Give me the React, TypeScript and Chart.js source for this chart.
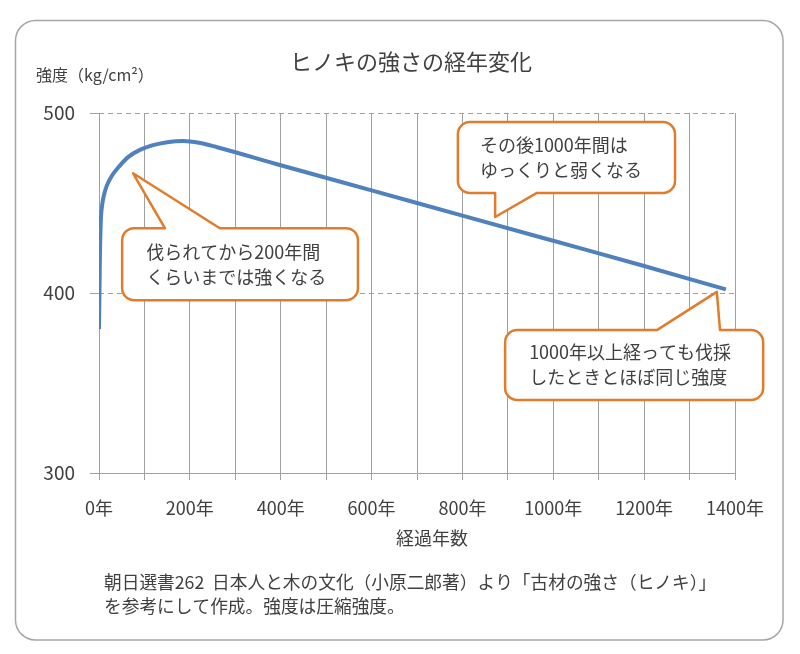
import React, { useEffect, useRef } from "react";
import { Chart, registerables } from "chart.js";

Chart.register(...registerables);

// ---- data ----
const years = [0, 2, 4, 7, 11, 17, 28, 45, 64, 90, 117, 150, 185, 220, 260, 400, 600, 800, 1000, 1200, 1380];
const strength = [380, 420, 440, 449, 454.5, 459.5, 465, 470.5, 475.5, 479.5, 482, 483.8, 484.5, 483.5, 481, 471, 457, 443, 429, 415, 402];

const yTicks = [300, 400, 500];
const xLabelStep = 200;
const xGridStep = 100;

const titleText = "ヒノキの強さの経年変化";
const yUnitText = "強度（kg/cm²）";
const xTitleText = "経過年数";
const noteLines = [
  "朝日選書262  日本人と木の文化（小原二郎著）より「古材の強さ（ヒノキ）」",
  "を参考にして作成。強度は圧縮強度。",
];

// callouts in data coordinates (years / strength)
const callouts = [
  {
    lines: ["伐られてから200年間", "くらいまでは強くなる"],
    box: [51, 570, 436, 396],
    side: "top",
    base: [145, 266],
    tip: [75, 466.5],
  },
  {
    lines: ["その後1000年間は", "ゆっくりと弱くなる"],
    box: [790, 1268, 495, 455.6],
    side: "bottom",
    base: [872, 964],
    tip: [872, 442.2],
  },
  {
    lines: ["1000年以上経っても伐採", "したときとほぼ同じ強度"],
    box: [894, 1462, 379.4, 340.6],
    side: "top",
    base: [1228, 1367],
    tip: [1360, 400.6],
  },
];

const FONT = "'Noto Sans CJK JP', 'Noto Sans', sans-serif";
const TEXT = "#404040";
const GRID = "#a0a0a0";
const ORANGE = "#E07C2C";
const BLUE = "#4F81BD";

function roundRectPath(ctx: CanvasRenderingContext2D, x0: number, y0: number, x1: number, y1: number, r: number) {
  ctx.beginPath();
  ctx.moveTo(x0 + r, y0);
  ctx.lineTo(x1 - r, y0);
  ctx.arcTo(x1, y0, x1, y0 + r, r);
  ctx.lineTo(x1, y1 - r);
  ctx.arcTo(x1, y1, x1 - r, y1, r);
  ctx.lineTo(x0 + r, y1);
  ctx.arcTo(x0, y1, x0, y1 - r, r);
  ctx.lineTo(x0, y0 + r);
  ctx.arcTo(x0, y0, x0 + r, y0, r);
  ctx.closePath();
}

const decorPlugin = {
  id: "decor",
  beforeDraw(chart: any) {
    const ctx: CanvasRenderingContext2D = chart.ctx;
    ctx.save();
    ctx.fillStyle = "#ffffff";
    ctx.fillRect(0, 0, chart.width, chart.height);
    roundRectPath(ctx, 15.5, 20.5, 783, 640, 20);
    ctx.strokeStyle = "#a6a6a6";
    ctx.lineWidth = 1.5;
    ctx.stroke();
    ctx.restore();
  },
  afterDraw(chart: any) {
    const ctx: CanvasRenderingContext2D = chart.ctx;
    const xs = chart.scales.x;
    const ys = chart.scales.y;
    const ca = chart.chartArea;
    ctx.save();
    ctx.fillStyle = TEXT;
    ctx.textBaseline = "middle";

    // title
    ctx.font = `22px ${FONT}`;
    ctx.textAlign = "center";
    ctx.fillText(titleText, 411, 62);

    // y unit
    ctx.font = `16px ${FONT}`;
    ctx.textAlign = "left";
    ctx.fillText(yUnitText, 36, 75);

    // x title
    ctx.font = `18px ${FONT}`;
    ctx.textAlign = "center";
    ctx.fillText(xTitleText, (ca.left + ca.right) / 2 + 15, 538);

    // footnote
    ctx.font = `17.7px ${FONT}`;
    ctx.textAlign = "left";
    noteLines.forEach((t, i) => ctx.fillText(t, 104, 582 + i * 24));

    // callouts
    callouts.forEach((c) => {
      const x0 = xs.getPixelForValue(c.box[0]);
      const x1 = xs.getPixelForValue(c.box[1]);
      const y0 = ys.getPixelForValue(c.box[2]);
      const y1 = ys.getPixelForValue(c.box[3]);
      const b0 = xs.getPixelForValue(c.base[0]);
      const b1 = xs.getPixelForValue(c.base[1]);
      const tx = xs.getPixelForValue(c.tip[0]);
      const ty = ys.getPixelForValue(c.tip[1]);
      const r = 12;
      ctx.beginPath();
      ctx.moveTo(x0 + r, y0);
      if (c.side === "top") {
        ctx.lineTo(b0, y0);
        ctx.lineTo(tx, ty);
        ctx.lineTo(b1, y0);
      }
      ctx.lineTo(x1 - r, y0);
      ctx.arcTo(x1, y0, x1, y0 + r, r);
      ctx.lineTo(x1, y1 - r);
      ctx.arcTo(x1, y1, x1 - r, y1, r);
      if (c.side === "bottom") {
        ctx.lineTo(b1, y1);
        ctx.lineTo(tx, ty);
        ctx.lineTo(b0, y1);
      }
      ctx.lineTo(x0 + r, y1);
      ctx.arcTo(x0, y1, x0, y1 - r, r);
      ctx.lineTo(x0, y0 + r);
      ctx.arcTo(x0, y0, x0 + r, y0, r);
      ctx.closePath();
      ctx.fillStyle = "#ffffff";
      ctx.fill();
      ctx.strokeStyle = ORANGE;
      ctx.lineWidth = 2.5;
      ctx.lineJoin = "round";
      ctx.stroke();

      ctx.fillStyle = TEXT;
      ctx.font = `18px ${FONT}`;
      ctx.textAlign = "left";
      const cy = (y0 + y1) / 2;
      const lh = 25;
      c.lines.forEach((t, i) => {
        ctx.fillText(t, x0 + (c.side === "bottom" ? 22 : 24), cy + (i - (c.lines.length - 1) / 2) * lh);
      });
    });
    ctx.restore();
  },
};

export default function App() {
  const ref = useRef<HTMLCanvasElement>(null);
  useEffect(() => {
    document.body.style.margin = "0";
    const data = years.map((x, i) => ({ x, y: strength[i] }));
    const chart = new Chart(ref.current as HTMLCanvasElement, {
      type: "line",
      data: {
        datasets: [
          {
            data,
            borderColor: BLUE,
            borderWidth: 4,
            pointRadius: 0,
            cubicInterpolationMode: "monotone",
            fill: false,
          } as any,
        ],
      },
      options: {
        animation: false,
        responsive: false,
        devicePixelRatio: 1,
        layout: { padding: { left: 0, top: 113, right: 65, bottom: 0 } },
        plugins: {
          legend: { display: false },
          tooltip: { enabled: false },
          title: { display: false },
        },
        scales: {
          x: {
            type: "linear",
            min: 0,
            max: 1400,
            afterFit: (s: any) => {
              s.height = 181;
            },
            afterBuildTicks: (s: any) => {
              const t = [];
              for (let v = 0; v <= 1400; v += xGridStep) t.push({ value: v });
              s.ticks = t;
            },
            ticks: {
              autoSkip: false,
              maxRotation: 0,
              minRotation: 0,
              padding: 17,
              color: TEXT,
              font: { family: FONT, size: 18 },
              callback: (v: any) => (Number(v) % xLabelStep === 0 ? `${v}年` : ""),
            },
            grid: { color: GRID, lineWidth: 1, tickLength: 7, drawTicks: true },
            border: { display: true, color: GRID, width: 1 },
          },
          y: {
            type: "linear",
            min: 300,
            max: 500,
            afterFit: (s: any) => {
              s.width = 99;
            },
            afterBuildTicks: (s: any) => {
              s.ticks = yTicks.map((v) => ({ value: v }));
            },
            ticks: {
              padding: 15,
              color: TEXT,
              font: { family: FONT, size: 19 },
            },
            grid: {
              color: (c: any) => (c.tick && c.tick.value === 300 ? "rgba(0,0,0,0)" : GRID),
              tickColor: GRID,
              tickLength: 9,
              lineWidth: 1,
              tickBorderDash: [],
            } as any,
            border: { display: false, dash: [5, 4] },
          },
        },
      } as any,
      plugins: [decorPlugin],
    });
    return () => chart.destroy();
  }, []);
  return (
    <div style={{ width: 800, height: 654 }}>
      <canvas ref={ref} width={800} height={654} style={{ width: 800, height: 654, display: "block" }} />
    </div>
  );
}
